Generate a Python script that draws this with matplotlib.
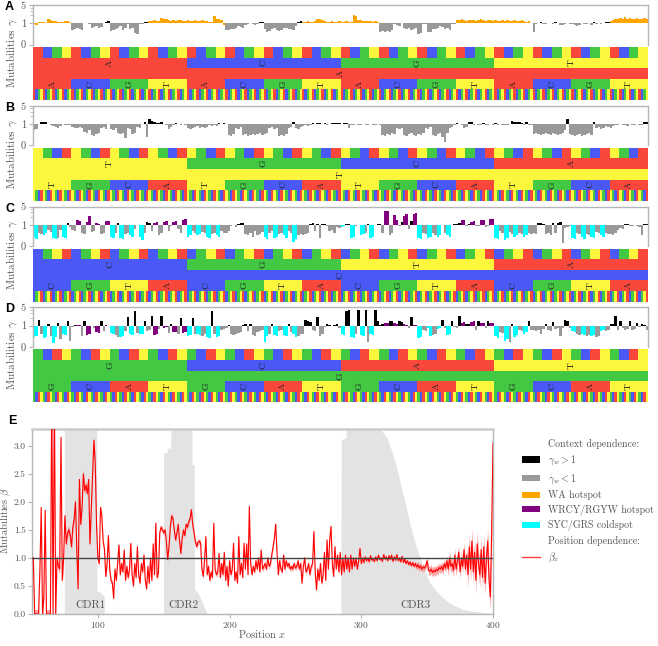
import numpy as np
import matplotlib
matplotlib.use('Agg')
import matplotlib.pyplot as plt
from matplotlib.patches import Patch
from matplotlib.lines import Line2D
from matplotlib.ticker import FixedLocator

plt.rcParams['font.family'] = ['cmr10', 'DejaVu Serif']
plt.rcParams['mathtext.fontset'] = 'cm'
plt.rcParams['axes.formatter.use_mathtext'] = True
plt.rcParams['axes.unicode_minus'] = False

# ---------------- data ----------------
panel_letters = ['A', 'B', 'C', 'D']
center_bases = ['A', 'T', 'C', 'G']
letter_orders = ['ACGT', 'TGCA', 'CGTA', 'GCAT']

gamma_A = [
    0.95, 0.9, 1.1, 1.15, 1.1, 1.05, 1.4, 1.35, 1.2, 1.25, 1.1, 1.15, 1.1, 1.2, 1.25, 1.1,
    0.7, 0.75, 0.8, 0.72, 0.7, 1.0, 1.05, 0.98, 0.8, 0.82, 0.85, 0.8, 0.82, 1.03, 1.1, 1.2,
    0.65, 0.7, 0.75, 0.8, 0.85, 0.7, 0.8, 0.98, 0.75, 0.78, 0.55, 0.5, 0.97, 0.98, 1.15, 1.1,
    1.2, 1.25, 1.3, 1.2, 1.25, 1.6, 1.5, 1.4, 1.3, 1.25, 1.3, 1.2, 1.35, 1.3, 1.25, 1.2,
    1.3, 1.25, 1.2, 1.3, 1.25, 1.2, 1.3, 1.25, 1.2, 1.15, 1.1, 1.9, 1.4, 1.5, 1.3, 0.9,
    0.7, 0.68, 0.75, 0.72, 0.8, 0.85, 0.82, 0.78, 0.9, 0.95, 1.0, 0.97, 0.9, 0.95, 1.15, 1.1,
    0.75, 0.6, 0.62, 0.75, 0.78, 0.7, 0.65, 0.7, 0.8, 0.78, 0.72, 0.75, 0.7, 0.85, 1.15, 1.2,
    1.1, 1.15, 1.2, 1.1, 1.15, 1.25, 1.4, 1.5, 1.3, 1.2, 1.15, 1.1, 1.2, 1.15, 1.1, 1.2,
    1.1, 1.15, 1.2, 1.1, 1.1, 2.0, 1.9, 1.3, 1.35, 1.2, 1.25, 1.2, 1.2, 1.15, 1.2, 1.1,
    0.6, 0.62, 0.6, 0.65, 0.58, 0.7, 0.95, 0.9, 0.85, 1.0, 0.78, 0.75, 0.8, 0.7, 0.72, 0.78,
    0.5, 0.52, 0.95, 0.97, 0.6, 0.58, 0.75, 0.72, 0.8, 0.85, 0.82, 0.75, 0.8, 0.7, 0.95, 0.97,
    1.3, 1.35, 1.4, 1.3, 1.25, 1.3, 1.35, 1.3, 1.25, 1.3, 1.4, 1.3, 1.25, 1.35, 1.3, 1.25,
    1.3, 1.25, 1.2, 1.3, 1.25, 1.3, 1.2, 1.25, 1.3, 1.2, 1.25, 1.3, 1.2, 1.15, 1.2, 1.05,
    0.6, 0.95, 1.05, 1.1, 0.97, 0.98, 1.05, 1.0, 0.95, 1.1, 1.05, 0.9, 0.93, 0.97, 1.05, 0.98,
    0.95, 0.9, 0.85, 0.9, 1.05, 0.95, 0.97, 1.05, 0.92, 1.1, 0.95, 1.0, 0.97, 1.05, 1.1, 1.15,
    1.2, 1.3, 1.4, 1.5, 1.6, 1.5, 1.7, 1.5, 1.6, 1.5, 1.4, 1.6, 1.5, 1.4, 1.6, 1.5,
]

gamma_B = [
    0.7, 0.75, 1.05, 1.15, 1.2, 1.15, 1.05, 0.95, 0.9, 0.85, 0.8, 0.9, 1.02, 0.98, 0.97, 0.95,
    0.85, 0.82, 0.8, 0.85, 0.8, 0.65, 0.6, 0.7, 0.5, 0.45, 0.55, 0.6, 0.8, 0.85, 0.78, 1.05,
    0.75, 0.7, 0.8, 0.6, 0.55, 0.6, 0.35, 0.8, 0.75, 0.55, 0.6, 0.85, 0.8, 1.0, 1.2, 0.4,
    1.5, 1.3, 1.15, 1.1, 1.1, 1.15, 1.05, 0.98, 0.75, 0.85, 0.95, 1.1, 1.05, 0.97, 1.05, 0.98,
    0.8, 0.75, 0.8, 0.85, 0.9, 0.8, 0.85, 0.8, 0.85, 0.95, 0.9, 0.97, 0.93, 1.1, 1.05, 1.1,
    1.05, 0.5, 0.45, 0.55, 0.8, 0.75, 0.85, 0.5, 0.55, 0.45, 0.5, 0.55, 0.5, 0.55, 0.6, 0.5,
    0.55, 0.6, 0.8, 0.85, 0.75, 0.8, 0.45, 0.5, 0.45, 0.55, 0.8, 0.85, 1.15, 0.8, 0.75, 0.85,
    0.9, 0.95, 0.92, 0.97, 1.1, 1.05, 1.08, 1.1, 1.05, 1.07, 0.97, 1.05, 1.1, 1.12, 1.08, 1.1,
    1.05, 1.08, 1.1, 0.8, 0.98, 0.97, 1.03, 0.98, 0.97, 1.02, 0.98, 0.96, 1.0, 0.97, 0.98, 1.02,
    0.97, 0.5, 0.45, 0.55, 0.5, 0.6, 0.55, 0.8, 0.75, 0.82, 0.5, 0.45, 0.55, 0.6, 0.5, 0.45,
    0.55, 0.5, 0.6, 0.8, 0.75, 0.85, 0.5, 0.45, 0.55, 0.6, 0.4, 0.15, 0.6, 0.8, 0.85, 0.95,
    1.1, 1.05, 0.97, 0.8, 0.85, 1.15, 1.2, 0.97, 1.05, 0.95, 0.97, 1.08, 0.96, 0.98, 1.05, 0.97,
    1.08, 0.95, 1.0, 0.97, 0.98, 0.97, 1.05, 1.3, 1.2, 1.15, 1.2, 1.1, 0.97, 1.15, 0.98, 0.97,
    0.55, 0.6, 0.55, 0.5, 0.55, 0.6, 0.55, 0.5, 0.6, 0.55, 0.5, 0.55, 0.6, 0.7, 1.5, 0.55,
    0.5, 0.45, 0.5, 0.55, 0.45, 0.5, 0.55, 0.6, 0.5, 1.2, 0.8, 0.85, 0.75, 0.8, 0.9, 0.85,
    0.8, 0.9, 0.95, 0.97, 1.05, 0.95, 0.97, 0.93, 1.05, 0.97, 0.95, 1.05, 0.97, 0.98, 1.25, 1.2,
]

gamma_C = [
    0.45, 0.35, 0.6, 0.55, 0.5, 0.6, 0.75, 0.65, 0.4, 0.35, 0.4, 0.75, 0.45, 0.38, 1.15, 0.9,
    0.75, 0.7, 1.5, 1.45, 0.6, 0.55, 1.3, 2.2, 0.65, 0.7, 1.2, 1.1, 0.55, 0.6, 1.4, 1.35,
    0.45, 0.4, 0.6, 1.15, 0.4, 0.35, 0.55, 0.6, 0.5, 0.45, 0.8, 1.02, 0.42, 0.3, 0.6, 1.3,
    1.15, 0.7, 1.2, 1.3, 0.5, 0.6, 1.25, 1.4, 0.7, 0.95, 1.3, 1.35, 0.8, 0.6, 1.6, 1.7,
    0.45, 0.5, 0.7, 0.6, 0.5, 0.55, 0.65, 0.6, 0.45, 0.4, 0.55, 0.6, 0.5, 0.45, 0.7, 0.6,
    0.6, 0.7, 0.95, 1.02, 0.9, 1.05, 1.2, 1.15, 0.55, 0.5, 0.6, 0.45, 0.7, 0.5, 0.55, 0.65,
    0.45, 0.35, 0.6, 0.7, 0.4, 0.45, 0.55, 0.6, 0.5, 0.4, 0.7, 0.6, 0.2, 0.35, 0.5, 0.55,
    0.5, 0.55, 0.6, 1.1, 1.15, 0.7, 1.1, 0.4, 1.05, 1.1, 0.95, 0.7, 0.75, 0.6, 0.9, 0.85,
    0.9, 0.95, 1.1, 1.05, 0.4, 0.45, 0.95, 1.03, 0.5, 0.55, 0.6, 1.05, 0.4, 0.45, 1.03, 1.05,
    1.1, 0.6, 3.5, 3.3, 0.5, 0.6, 2.3, 1.5, 0.95, 1.3, 2.2, 2.6, 0.8, 1.4, 2.5, 2.8,
    0.4, 0.35, 0.6, 0.55, 0.38, 0.45, 0.6, 0.5, 0.45, 0.5, 1.03, 0.6, 0.5, 0.45, 1.0, 1.05,
    1.1, 1.2, 1.5, 1.55, 0.95, 1.1, 1.3, 1.4, 0.97, 0.95, 1.5, 1.55, 0.9, 0.95, 1.7, 1.65,
    0.4, 0.35, 0.7, 0.6, 0.3, 0.4, 0.65, 0.55, 0.45, 0.5, 0.6, 0.55, 0.45, 0.5, 0.6, 0.55,
    0.6, 0.55, 1.2, 1.15, 1.1, 0.55, 0.6, 0.5, 1.15, 0.6, 1.2, 1.25, 0.15, 0.85, 0.9, 0.95,
    0.4, 0.35, 0.6, 0.55, 0.45, 0.35, 0.55, 0.5, 0.45, 0.4, 0.65, 0.6, 0.5, 0.45, 0.6, 0.55,
    0.55, 0.5, 0.6, 0.75, 0.85, 0.8, 1.1, 1.05, 0.95, 0.97, 1.02, 0.95, 0.9, 0.5, 1.1, 1.05,
]

gamma_D = [
    0.45, 0.5, 1.7, 0.6, 0.4, 0.45, 1.2, 0.5, 0.2, 0.45, 1.25, 0.35, 0.6, 0.55, 1.5, 0.3,
    0.95, 1.05, 1.1, 1.08, 0.5, 1.5, 0.55, 0.6, 0.97, 0.9, 0.7, 0.65, 1.5, 0.75, 1.05, 0.98,
    0.65, 0.6, 0.55, 0.45, 0.45, 0.5, 0.75, 2.1, 0.6, 0.55, 3.5, 0.65, 0.6, 0.6, 1.5, 0.75,
    0.8, 2.3, 0.55, 0.6, 0.85, 2.3, 0.9, 0.95, 0.65, 1.2, 0.7, 0.68, 0.6, 1.9, 0.65, 0.7,
    0.5, 0.55, 1.9, 0.6, 0.6, 0.55, 0.5, 0.6, 0.45, 0.4, 3.5, 0.6, 0.45, 0.5, 0.8, 0.85,
    0.9, 1.1, 0.6, 0.55, 0.6, 0.65, 0.7, 1.1, 1.15, 0.75, 1.2, 0.55, 0.5, 0.7, 0.75, 0.8,
    0.25, 0.5, 0.6, 1.15, 0.55, 0.5, 0.75, 0.8, 0.55, 0.5, 1.15, 0.7, 0.6, 0.45, 0.5, 0.6,
    0.6, 1.7, 1.5, 1.4, 0.8, 0.75, 2.1, 0.5, 0.6, 0.95, 1.15, 1.05, 0.97, 1.03, 1.2, 0.9,
    0.6, 0.55, 3.8, 4.0, 0.45, 0.4, 0.6, 4.0, 0.55, 0.5, 4.0, 0.25, 0.6, 0.55, 4.0, 1.5,
    1.1, 1.2, 1.3, 1.25, 1.5, 1.45, 1.3, 1.2, 1.5, 1.4, 1.15, 1.1, 0.9, 2.1, 1.05, 1.1,
    0.4, 0.45, 0.8, 0.75, 0.9, 0.5, 0.55, 0.6, 0.85, 0.9, 1.6, 0.9, 0.55, 0.6, 1.5, 0.95,
    0.9, 2.3, 1.3, 1.35, 1.2, 1.15, 1.4, 1.5, 0.8, 1.5, 1.3, 1.25, 0.9, 1.5, 1.3, 1.3,
    0.5, 0.4, 0.7, 0.65, 0.3, 0.35, 0.25, 1.15, 0.45, 0.55, 0.8, 0.75, 0.6, 0.7, 1.5, 0.8,
    0.8, 0.75, 0.8, 0.6, 0.85, 1.2, 0.8, 0.75, 1.4, 0.85, 0.9, 0.5, 0.9, 1.6, 1.55, 0.9,
    0.75, 0.7, 0.6, 0.55, 0.6, 0.55, 0.5, 0.55, 0.5, 0.55, 0.45, 0.5, 0.75, 0.8, 0.75, 0.8,
    1.2, 1.15, 2.3, 0.8, 1.5, 0.9, 0.8, 0.85, 1.5, 0.8, 0.85, 1.25, 0.95, 1.2, 1.1, 0.8,
]

gammas = [gamma_A, gamma_B, gamma_C, gamma_D]

beta_pos = list(range(51, 401))
beta_vals = [
    1.0, 0.0, 0.0, 0.0, 0.0, 0.8, 1.9, 0.0, 0.3, 1.85,
    0.0, 0.0, 0.0, 0.0, 4.0, 0.0, 4.0, 0.0, 1.0, 0.85,
    0.8, 3.15, 0.6, 1.0, 1.75, 1.25, 1.45, 1.5, 1.4, 1.2,
    1.55, 1.7, 2.0, 1.15, 0.45, 2.4, 1.6, 1.9, 2.5, 2.2,
    2.3, 2.15, 2.4, 1.25, 1.85, 2.5, 3.1, 2.7, 1.6, 1.0,
    0.9, 1.9, 1.75, 1.3, 1.15, 0.67, 0.9, 1.4, 0.8, 0.6,
    0.55, 0.28, 0.8, 0.6, 0.9, 1.23, 0.7, 0.9, 0.75, 1.14,
    0.6, 0.85, 0.65, 0.8, 1.26, 0.7, 0.5, 0.9, 0.65, 1.2,
    0.7, 0.55, 0.9, 0.75, 1.05, 0.6, 0.45, 0.85, 0.55, 1.0,
    0.6, 1.25, 0.7, 1.62, 0.65, 0.75, 1.45, 1.55, 1.5, 1.45,
    1.5, 1.3, 0.97, 1.2, 1.55, 1.75, 1.7, 1.5, 1.32, 1.45,
    1.6, 1.3, 1.08, 1.35, 1.5, 1.4, 1.6, 1.55, 1.65, 1.7,
    1.86, 1.6, 1.45, 1.3, 1.2, 1.28, 1.3, 1.26, 0.8, 0.67,
    0.95, 1.38, 0.7, 0.85, 0.6, 0.75, 0.65, 1.62, 0.8, 0.7,
    0.75, 1.08, 0.65, 0.9, 0.7, 1.1, 0.6, 0.85, 0.5, 0.95,
    0.7, 0.8, 1.26, 0.6, 0.75, 0.55, 1.38, 0.7, 0.9, 0.65,
    1.26, 0.8, 1.25, 0.7, 1.92, 0.9, 0.7, 0.85, 0.75, 0.95,
    0.8, 1.0, 0.75, 1.14, 0.8, 0.85, 0.9, 0.8, 1.0, 0.85,
    0.9, 1.05, 1.2, 1.35, 1.6, 1.1, 0.7, 0.95, 0.8, 0.75,
    1.05, 0.8, 0.95, 0.85, 0.9, 0.8, 0.85, 0.8, 0.9, 0.82,
    0.85, 0.95, 0.8, 0.9, 0.55, 0.85, 1.0, 0.75, 0.8, 0.9,
    0.7, 0.85, 0.9, 1.47, 0.75, 0.43, 0.8, 0.6, 0.9, 0.55,
    0.7, 1.1, 0.6, 1.32, 0.8, 1.32, 1.56, 0.9, 0.67, 1.2,
    0.8, 1.05, 0.75, 1.1, 0.7, 1.0, 0.75, 1.05, 0.8, 1.0,
    0.75, 1.05, 0.8, 1.0, 0.85, 1.0, 0.8, 0.95, 1.17, 0.9,
    1.0, 0.92, 1.02, 0.95, 1.0, 0.93, 1.04, 0.96, 0.98, 0.94,
    1.02, 0.95, 1.05, 0.97, 1.0, 0.94, 1.06, 0.98, 1.02, 0.95,
    1.04, 0.97, 1.05, 0.94, 1.02, 0.96, 1.06, 0.95, 1.0, 0.93,
    1.03, 0.92, 0.98, 0.9, 0.95, 0.88, 0.93, 0.86, 0.92, 0.85,
    0.9, 0.84, 0.88, 0.82, 0.86, 0.8, 0.84, 0.82, 0.86, 0.95,
    0.78, 0.76, 0.8, 0.74, 0.78, 0.75, 0.8, 0.77, 0.83, 0.8,
    0.85, 0.78, 0.9, 0.82, 0.95, 0.8, 1.0, 0.85, 0.9, 0.78,
    1.05, 0.8, 0.95, 1.1, 0.75, 1.0, 0.85, 1.15, 0.8, 1.05,
    0.7, 1.2, 0.8, 1.3, 0.75, 1.1, 0.6, 1.25, 0.9, 0.7,
    1.15, 0.65, 1.2, 0.55, 1.0, 1.3, 0.6, 0.3, 1.5, 3.05,
]
beta_err = [0.08] * 50 + [0.05] * 190 + [0.03] * 50 + [0.06] * 10 + [0.08] * 15 + [0.12] * 15 + [0.22] * 20

cdr1_pos = [74.5, 74.6, 99.0, 99.2, 102.0, 104.8, 105.0]
cdr1_h = [0.0, 5.0, 5.0, 0.42, 0.38, 0.32, 0.0]
cdr2_pos = [149.8, 149.9, 152.5, 152.6, 155.3, 156.6, 171.4, 171.5, 173.2, 173.3, 176.0, 179.0, 181.0, 183.5]
cdr2_h = [0.0, 2.88, 2.88, 2.96, 2.96, 5.0, 5.0, 2.66, 2.66, 0.45, 0.38, 0.22, 0.1, 0.0]
cdr3_pos = [284.6, 284.7, 288.5, 289.0, 314.4, 319.4, 322.0, 324.5, 327.0, 329.5, 332.0, 334.6,
            337.0, 339.6, 342.0, 344.7, 347.2, 349.7, 352.3, 357.3, 362.4, 367.4, 372.5, 377.5,
            385.0, 395.0, 400.0]
cdr3_h = [0.0, 3.1, 3.15, 5.0, 3.3, 3.15, 2.98, 2.8, 2.6, 2.35, 2.1, 1.86,
          1.6, 1.38, 1.18, 1.0, 0.83, 0.68, 0.55, 0.4, 0.28, 0.19, 0.13, 0.08,
          0.05, 0.02, 0.01]
cdr_labels = ['CDR1', 'CDR2', 'CDR3']
cdr_label_x = [94.5, 164.8, 341.5]

assert all(len(g) == 256 for g in gammas), [len(g) for g in gammas]
assert len(beta_vals) == 350 and len(beta_err) == 350

# ---------------- styling ----------------
base_colors = {'A': '#f9473c', 'C': '#4a58f6', 'G': '#43c843', 'T': '#fcf73c'}
cat_colors = {'up': '#000000', 'down': '#999999', 'wa': '#ffa500',
              'wrcy': '#800080', 'syc': '#00ffff'}
spine_col = '#b5b5b5'
txt_col = '#555555'

W, H = 658, 646
fig = plt.figure(figsize=(W / 100, H / 100), dpi=100)


def rect(x0, y0, x1, y1):
    return [x0 / W, 1 - y1 / H, (x1 - x0) / W, (y1 - y0) / H]


def category(panel, i, v):
    q = i // 64
    b = (i // 16) % 4
    d = i % 4
    if panel == 0 and b in (0, 3):
        return 'wa'
    if panel in (2, 3):
        if q in (0, 2) and b in (1, 3) and d in (2, 3):
            return 'wrcy'
        if b in (0, 2) and d in (0, 1):
            return 'syc'
    return 'up' if v > 1 else 'down'


X0, X1 = 33, 648
for k in range(4):
    top = 5 + 100.8 * k
    ax = fig.add_axes(rect(X0, top, X1, top + 39.5))
    vals = np.array(gammas[k])
    idx = np.arange(256)
    cols = [cat_colors[category(k, i, v)] for i, v in enumerate(vals)]
    ax.bar(idx, vals - 1, bottom=1, width=1.0, color=cols, linewidth=0)
    ax.set_yscale('symlog', linthresh=1, linscale=0.73, base=10)
    ax.set_ylim(0, 5)
    ax.set_xlim(-0.5, 255.5)
    ax.set_yticks([0, 1, 5])
    ax.set_yticklabels(['0', '1', '5'])
    ax.yaxis.set_minor_locator(FixedLocator([2, 3, 4]))
    ax.tick_params(axis='y', which='major', length=3, width=0.8, color=spine_col,
                   labelsize=7.5, labelcolor=txt_col, pad=2)
    ax.tick_params(axis='y', which='minor', length=2, width=0.6, color=spine_col)
    ax.set_xticks([])
    for s in ['top', 'left', 'right']:
        ax.spines[s].set_color(spine_col)
        ax.spines[s].set_linewidth(1.0)
    ax.spines['bottom'].set_visible(False)

    # sequence logo rows
    lax = fig.add_axes(rect(X0, top + 42, X1, top + 95))
    order = letter_orders[k]
    lax.set_xlim(0, 256)
    lax.set_ylim(0, 5)
    lax.axis('off')
    lax.bar(np.arange(64) * 4, 1, width=4, bottom=4, align='edge', linewidth=0,
            color=[base_colors[order[j % 4]] for j in range(64)])
    lax.bar(np.arange(4) * 64, 1, width=64, bottom=3, align='edge', linewidth=0,
            color=[base_colors[order[j]] for j in range(4)])
    for j in range(4):
        lax.text(64 * j + 32, 3.5, order[j], rotation=90, ha='center', va='center',
                 fontsize=7, color='#222222')
    lax.bar([0], 1, width=256, bottom=2, align='edge', linewidth=0,
            color=base_colors[center_bases[k]])
    lax.text(128, 2.5, center_bases[k], rotation=90, ha='center', va='center',
             fontsize=7, color='#222222')
    lax.bar(np.arange(16) * 16, 1, width=16, bottom=1, align='edge', linewidth=0,
            color=[base_colors[order[j % 4]] for j in range(16)])
    for j in range(16):
        lax.text(16 * j + 8, 1.5, order[j % 4], rotation=90, ha='center', va='center',
                 fontsize=7, color='#222222')
    lax.bar(np.arange(256), 1, width=1, bottom=0, align='edge', linewidth=0,
            color=[base_colors[order[j % 4]] for j in range(256)])

    fig.text(12 / W, 1 - (top + 48) / H, r'Mutabilities $\gamma$', rotation=90,
             ha='center', va='center', fontsize=8, color=txt_col)
    fig.text(5 / W, 1 - (top + 2) / H, panel_letters[k], ha='left', va='center',
             fontsize=9, fontweight='bold', family='Liberation Sans')

# ---------------- panel E ----------------
axE = fig.add_axes(rect(32, 429, 493, 614))
for p, h in zip([cdr1_pos, cdr2_pos, cdr3_pos], [cdr1_h, cdr2_h, cdr3_h]):
    axE.fill_between(p, 0, h, color='#e3e3e3', linewidth=0, zorder=0)
for lab, xl in zip(cdr_labels, cdr_label_x):
    axE.text(xl, 0.15, lab, ha='center', va='center', fontsize=8, color=txt_col, zorder=1)
bv = np.array(beta_vals)
be = np.array(beta_err)
axE.fill_between(beta_pos, bv - be, bv + be, color='#ff8080', alpha=0.7, linewidth=0, zorder=2)
axE.plot(beta_pos, bv, color='#ff0000', lw=0.8, zorder=3)
axE.axhline(1.0, color='#444444', lw=1.0, zorder=4)
axE.set_xlim(50, 400)
axE.set_ylim(0, 3.3)
axE.set_xticks([100, 200, 300, 400])
axE.set_yticks([0.0, 0.5, 1.0, 1.5, 2.0, 2.5, 3.0])
axE.set_yticklabels(['0.0', '0.5', '1.0', '1.5', '2.0', '2.5', '3.0'])
axE.tick_params(length=3, width=0.8, color=spine_col, labelsize=6.8, labelcolor=txt_col, pad=1.5)
for s in axE.spines.values():
    s.set_color(spine_col)
    s.set_linewidth(1.0)
axE.spines['top'].set_linewidth(1.8)
axE.spines['top'].set_color('#cccccc')
fig.text(262 / W, 1 - 634 / H, r'Position $x$', ha='center', va='center',
         fontsize=7.5, color=txt_col)
fig.text(6 / W, 1 - 521 / H, r'Mutabilities $\beta$', rotation=90, ha='center',
         va='center', fontsize=7.5, color=txt_col)
fig.text(8 / W, 1 - 421 / H, 'E', ha='left', va='center', fontsize=9,
         fontweight='bold', family='Liberation Sans')

blank = Line2D([], [], linestyle='none')
handles = [blank,
           Patch(facecolor=cat_colors['up']),
           Patch(facecolor=cat_colors['down']),
           Patch(facecolor=cat_colors['wa']),
           Patch(facecolor=cat_colors['wrcy']),
           Patch(facecolor=cat_colors['syc']),
           blank,
           Line2D([], [], color='#ff4040', lw=1.0)]
labels = ['Context dependence:', r'$\gamma_w > 1$', r'$\gamma_w < 1$', 'WA hotspot',
          'WRCY/RGYW hotspot', 'SYC/GRS coldspot', 'Position dependence:', r'$\beta_x$']
leg = fig.legend(handles, labels, loc='upper left', bbox_to_anchor=(518 / W, 1 - 435 / H),
                 frameon=False, fontsize=7.2, handlelength=1.8, handleheight=0.6,
                 labelspacing=0.45, handletextpad=0.8, borderaxespad=0)
for t in leg.get_texts():
    t.set_color(txt_col)

fig.savefig('out.png', dpi=100)
